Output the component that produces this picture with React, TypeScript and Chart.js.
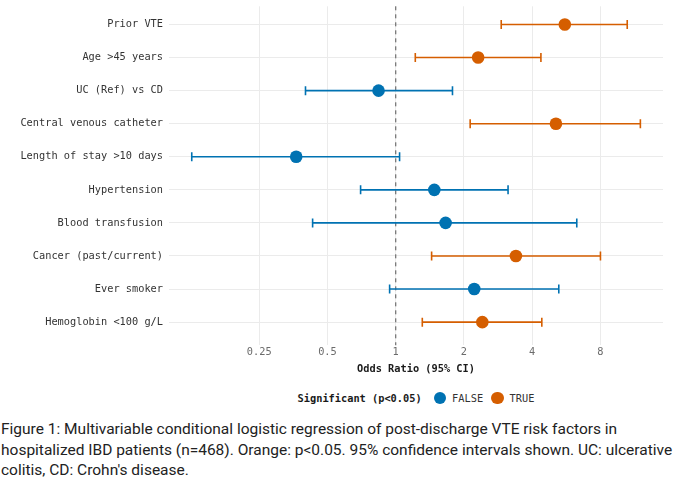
import React, { useEffect, useRef } from "react";
import { Chart, registerables } from "chart.js";

Chart.register(...registerables);

const labels = [
  "Prior VTE",
  "Age >45 years",
  "UC (Ref) vs CD",
  "Central venous catheter",
  "Length of stay >10 days",
  "Hypertension",
  "Blood transfusion",
  "Cancer (past/current)",
  "Ever smoker",
  "Hemoglobin <100 g/L",
];
const oddsRatio = [5.57, 2.31, 0.84, 5.09, 0.364, 1.48, 1.66, 3.39, 2.22, 2.41];
const ciLow = [2.92, 1.22, 0.4, 2.13, 0.126, 0.7, 0.43, 1.44, 0.94, 1.31];
const ciHigh = [10.5, 4.37, 1.78, 12.0, 1.04, 3.13, 6.29, 8.0, 5.24, 4.41];
const significant = [true, true, false, true, false, false, false, true, false, true];
const xTicks = [0.25, 0.5, 1, 2, 4, 8];

const BLUE = "#0072B2";
const ORANGE = "#D55E00";
const MONO = "'DejaVu Sans Mono', monospace";

const errorBarPlugin = {
  id: "errorBars",
  beforeDatasetsDraw(chart: any) {
    const { ctx, scales, chartArea } = chart;
    const xs = scales.x;
    const ys = scales.y;
    ctx.save();
    const x1 = xs.getPixelForValue(1);
    ctx.strokeStyle = "#6f6f6f";
    ctx.lineWidth = 1.2;
    ctx.setLineDash([4, 4]);
    ctx.beginPath();
    ctx.moveTo(x1, chartArea.top);
    ctx.lineTo(x1, chartArea.bottom);
    ctx.stroke();
    ctx.setLineDash([]);
    ctx.lineWidth = 1.6;
    labels.forEach((_, i) => {
      const y = ys.getPixelForValue(i);
      const xl = xs.getPixelForValue(ciLow[i]);
      const xh = xs.getPixelForValue(ciHigh[i]);
      ctx.strokeStyle = significant[i] ? ORANGE : BLUE;
      ctx.beginPath();
      ctx.moveTo(xl, y);
      ctx.lineTo(xh, y);
      ctx.moveTo(xl, y - 4.5);
      ctx.lineTo(xl, y + 4.5);
      ctx.moveTo(xh, y - 4.5);
      ctx.lineTo(xh, y + 4.5);
      ctx.stroke();
    });
    ctx.restore();
  },
};

export default function App() {
  const ref = useRef<HTMLCanvasElement>(null);

  useEffect(() => {
    document.body.style.margin = "0";
    const mk = (sig: boolean) =>
      labels
        .map((_, i) => ({ x: oddsRatio[i], y: i, s: significant[i] }))
        .filter((d) => d.s === sig)
        .map((d) => ({ x: d.x, y: d.y }));
    const chart = new Chart(ref.current!, {
      type: "scatter",
      data: {
        datasets: [
          {
            label: "FALSE",
            data: mk(false),
            backgroundColor: BLUE,
            borderColor: BLUE,
            pointRadius: 6.3,
            borderWidth: 0,
          },
          {
            label: "TRUE",
            data: mk(true),
            backgroundColor: ORANGE,
            borderColor: ORANGE,
            pointRadius: 6.3,
            borderWidth: 0,
          },
        ],
      },
      options: {
        animation: false,
        responsive: false,
        maintainAspectRatio: false,
        layout: { padding: { top: 0, right: 17, left: 0, bottom: 0 } },
        plugins: {
          legend: { display: false },
          tooltip: { enabled: false },
        },
        scales: {
          x: {
            type: "logarithmic",
            min: 0.1,
            max: 15.1,
            afterBuildTicks: (s: any) => {
              s.ticks = xTicks.map((v) => ({ value: v }));
            },
            afterFit: (s: any) => {
              s.paddingLeft = 0;
              s.paddingRight = 0;
            },
            border: { display: false },
            grid: { color: "#EBEBEB", lineWidth: 1, drawTicks: false },
            ticks: {
              autoSkip: false,
              maxRotation: 0,
              padding: 1,
              color: "#6b6b6b",
              font: { family: MONO, size: 10.3 },
              callback: (v: any) => String(v),
            },
            title: {
              display: true,
              text: "Odds Ratio (95% CI)",
              color: "#1a1a1a",
              font: { family: MONO, size: 10.3, weight: "bold" },
              padding: { top: 4, bottom: 4 },
            },
          },
          y: {
            type: "linear",
            reverse: true,
            min: -0.55,
            max: 9.7,
            afterBuildTicks: (s: any) => {
              s.ticks = labels.map((_, i) => ({ value: i }));
            },
            afterFit: (s: any) => {
              s.width = 169;
              s.paddingTop = 0;
              s.paddingBottom = 0;
            },
            border: { display: false },
            grid: { color: "#EBEBEB", lineWidth: 1, drawTicks: false },
            ticks: {
              autoSkip: false,
              padding: 6,
              color: "#333333",
              font: { family: MONO, size: 10.3 },
              callback: (v: any) => labels[v] ?? "",
            },
          },
        },
      },
      plugins: [errorBarPlugin],
    });
    return () => chart.destroy();
  }, []);

  const dot = (c: string) => (
    <span
      style={{
        display: "inline-block",
        width: 12.5,
        height: 12.5,
        borderRadius: "50%",
        background: c,
        margin: "0 6px 0 8px",
      }}
    />
  );

  return (
    <div style={{ width: 680, background: "#fff" }}>
      <canvas ref={ref} width={680} height={380} style={{ display: "block" }} />
      <div
        style={{
          height: 36,
          display: "flex",
          alignItems: "center",
          justifyContent: "center",
          paddingLeft: 152,
          fontFamily: MONO,
          fontSize: 10.3,
          color: "#333",
          boxSizing: "border-box",
        }}
      >
        <span style={{ fontWeight: "bold", color: "#1a1a1a", marginRight: 4 }}>Significant (p&lt;0.05)</span>
        {dot(BLUE)}
        <span>FALSE</span>
        {dot(ORANGE)}
        <span>TRUE</span>
      </div>
      <div
        style={{
          fontFamily: "Roboto, 'Liberation Sans', sans-serif",
          fontSize: 15.5,
          lineHeight: "20.5px",
          color: "#222",
          paddingLeft: 1,
          marginTop: 3,
          whiteSpace: "nowrap",
        }}
      >
        <div>Figure 1: Multivariable conditional logistic regression of post-discharge VTE risk factors in</div>
        <div>hospitalized IBD patients (n=468). Orange: p&lt;0.05. 95% confidence intervals shown. UC: ulcerative</div>
        <div>colitis, CD: Crohn's disease.</div>
      </div>
    </div>
  );
}
